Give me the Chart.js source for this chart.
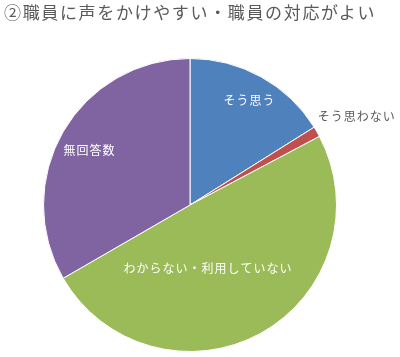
<!DOCTYPE html>
<html><head><meta charset="utf-8">
<script src="https://cdn.jsdelivr.net/npm/chart.js@4"></script>
<style>
html,body{margin:0;padding:0;background:#fff;}
#wrap{position:relative;width:400px;height:357px;}
#title{position:absolute;left:4px;top:1px;font-family:"Noto Sans CJK JP",sans-serif;font-size:17px;color:#595959;letter-spacing:1.65px;white-space:nowrap;line-height:22px;}
canvas{position:absolute;left:0;top:0;}
</style></head>
<body><div id="wrap"><canvas id="c" width="400" height="357"></canvas><div id="title">②職員に声をかけやすい・職員の対応がよい</div></div>
<script>
const categories = ["そう思う","そう思わない","わからない・利用していない","無回答数"];
const values = [14, 1, 43, 29];
const colors = ["#4F81BD","#C0504D","#9BBB59","#8064A2"];

// label placement: [angle from top in degrees, radius fraction, inside?]
const labelPos = [[29.7,0.82,true],[null,null,false],[164.3,0.452,true],[298.6,0.782,true]];

const labelPlugin = {
  id:'labels',
  afterDatasetsDraw(chart){
    const ctx = chart.ctx;
    const meta = chart.getDatasetMeta(0);
    ctx.save();
    ctx.font = '12px "Noto Sans CJK JP", sans-serif';
    ctx.textBaseline = 'middle';
    meta.data.forEach((arc,i)=>{
      const p = labelPos[i];
      const text = categories[i];
      if (p[2]) {
        const a = p[0]*Math.PI/180;
        const r = arc.outerRadius*p[1];
        const x = arc.x + r*Math.sin(a);
        const y = arc.y - r*Math.cos(a);
        ctx.fillStyle = '#ffffff';
        ctx.textAlign = 'center';
        if (ctx.letterSpacing !== undefined) ctx.letterSpacing = '1px';
        ctx.fillText(text, x, y);
      } else {
        const mid = (arc.startAngle+arc.endAngle)/2;
        const x = arc.x + arc.outerRadius*Math.cos(mid) + 1;
        const y = arc.y + arc.outerRadius*Math.sin(mid) - 15;
        ctx.fillStyle = '#595959';
        ctx.textAlign = 'left';
        if (ctx.letterSpacing !== undefined) ctx.letterSpacing = '1px';
        ctx.fillText(text, x, y);
      }
    });
    ctx.restore();
  }
};

new Chart(document.getElementById('c'), {
  type:'pie',
  data:{labels:categories,datasets:[{data:values,backgroundColor:colors,borderColor:'#ffffff',borderWidth:1}]},
  options:{
    responsive:false,animation:false,
    layout:{padding:{top:58,bottom:5,left:43,right:63}},
    plugins:{legend:{display:false},tooltip:{enabled:false},title:{display:false}}
  },
  plugins:[labelPlugin]
});
</script></body></html>
